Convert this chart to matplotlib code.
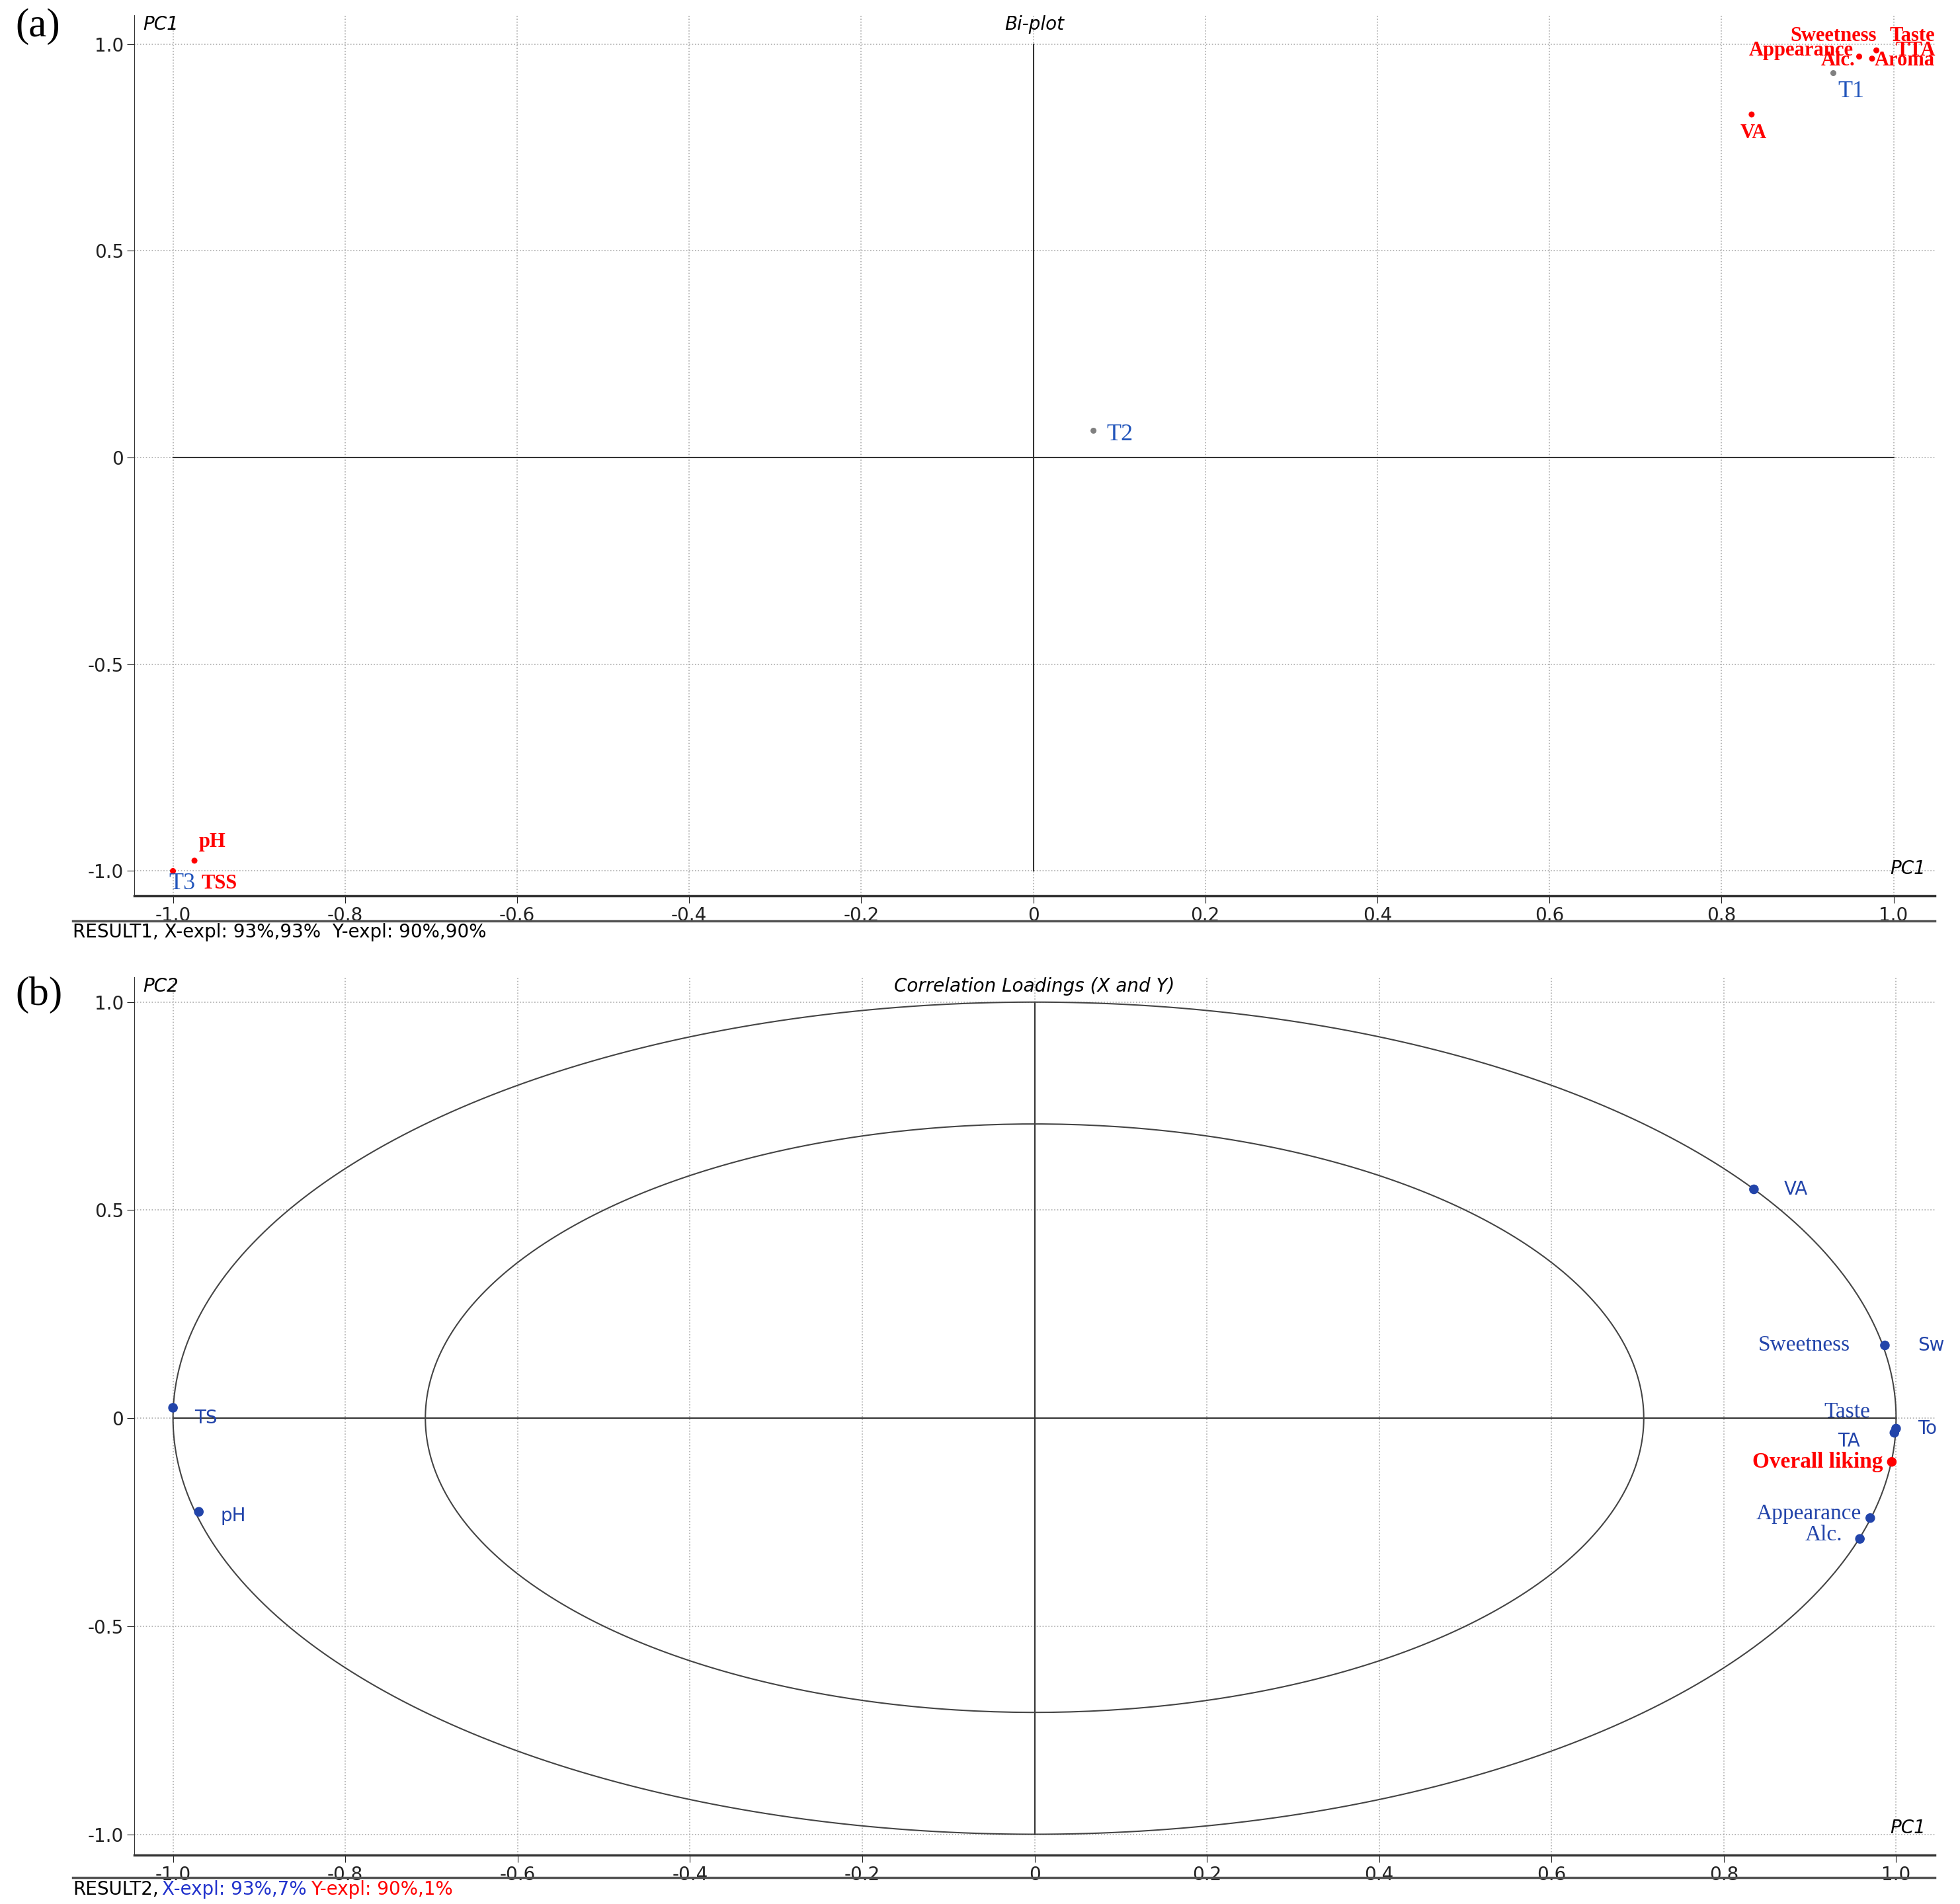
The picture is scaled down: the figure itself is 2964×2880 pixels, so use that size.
import numpy as np
import matplotlib
matplotlib.use("Agg")
import matplotlib.pyplot as plt

# panel (a) bi-plot
a_pts_x = [0.835, 0.96, 0.975, 0.98, -0.975, -1.0, 0.07, 0.93]
a_pts_y = [0.83, 0.97, 0.965, 0.985, -0.975, -1.0, 0.065, 0.93]
a_pts_c = ["red", "red", "red", "red", "red", "red", "grey", "grey"]
a_labels = ["VA", "Sweetness", "Taste", "Appearance", "Alc.", "TTA", "Aroma", "T1", "T2", "T3", "TSS", "pH"]
a_lab_x = [0.822, 0.98, 0.995, 0.953, 0.955, 1.002, 0.978, 0.935, 0.085, -1.005, -0.967, -0.97]
a_lab_y = [0.785, 1.02, 1.02, 0.985, 0.96, 0.985, 0.96, 0.885, 0.055, -1.03, -1.03, -0.93]
a_lab_ha = ["left", "right", "left", "right", "right", "left", "left", "left", "left", "left", "left", "left"]
a_lab_c = ["red"] * 7 + ["#2255bb"] * 3 + ["red"] * 2

# panel (b) correlation loadings
b_names = ["VA", "Sweetness", "Taste", "TA", "Overall liking", "Appearance", "Alc.", "TS", "pH"]
b_x = [0.835, 0.987, 1.0, 0.998, 0.995, 0.97, 0.958, -1.0, -0.97]
b_y = [0.55, 0.175, -0.025, -0.035, -0.105, -0.24, -0.29, 0.025, -0.225]
b_c = ["#2244aa"] * 4 + ["red"] + ["#2244aa"] * 4

ticks_x = np.round(np.arange(-1.0, 1.01, 0.2), 1)
ticks_y = [-1.0, -0.5, 0, 0.5, 1.0]

fig = plt.figure(figsize=(29.64, 28.8), dpi=100)
W, H = 2964, 2880
axa = fig.add_axes([203 / W, 1 - 1355 / H, (2926 - 203) / W, (1355 - 23) / H])
axb = fig.add_axes([203 / W, 1 - 2806 / H, (2926 - 203) / W, (2806 - 1478) / H])

def style(ax, ylab, title):
    for s in ["top", "right"]:
        ax.spines[s].set_visible(False)
    ax.spines["left"].set_color("#333333")
    ax.spines["bottom"].set_color("#333333")
    ax.spines["bottom"].set_linewidth(2.5)
    ax.set_xticks(ticks_x)
    ax.set_xticklabels(["%.1f" % t if t != 0 else "0" for t in ticks_x])
    ax.set_yticks(ticks_y)
    ax.set_yticklabels(["%.1f" % t if t != 0 else "0" for t in ticks_y])
    ax.tick_params(labelsize=20, length=8, colors="#222222")
    ax.grid(True, linestyle=":", color="#aaaaaa", linewidth=1.2)
    ax.plot([0, 0], [-1, 1], color="#333333", lw=1.5)
    ax.text(0.005, 1.0, ylab, transform=ax.transAxes, fontsize=20, style="italic", ha="left", va="top")
    ax.text(0.995, 0.02, "PC1", transform=ax.transAxes, fontsize=20, style="italic", ha="right", va="bottom")
    ax.text(0.5, 1.0, title, transform=ax.transAxes, fontsize=20, style="italic", ha="center", va="top")

axa.set_xlim(-1.045, 1.048)
axa.set_ylim(-1.06, 1.07)
style(axa, "PC1", "Bi-plot")
axa.plot([-1, 1], [0, 0], color="#333333", lw=1.5)
axa.scatter(a_pts_x, a_pts_y, c=a_pts_c, s=30, zorder=3)
for n, x, y, ha, c in zip(a_labels, a_lab_x, a_lab_y, a_lab_ha, a_lab_c):
    axa.text(x, y, n, color=c, ha=ha, va="center", fontsize=22 if c == "red" else 26,
             family="Liberation Serif", fontweight="bold" if c == "red" else "normal")

axb.set_xlim(-1.045, 1.045)
axb.set_ylim(-1.05, 1.06)
style(axb, "PC2", "Correlation Loadings (X and Y)")
axb.plot([-1, 1], [0, 0], color="#333333", lw=1.5)
t = np.linspace(0, 2 * np.pi, 400)
for r in [1.0, np.sqrt(0.5)]:
    axb.plot(r * np.cos(t), r * np.sin(t), color="#444444", lw=1.5)
axb.scatter(b_x, b_y, c=b_c, s=90, zorder=3)
b_off = {"VA": (0.035, 0, "left"), "TS": (0.025, -0.025, "left"), "pH": (0.025, -0.01, "left"),
         "Sweetness": (-0.04, 0, "right"), "Taste": (-0.03, 0.04, "right"), "TA": (-0.04, -0.02, "right"),
         "Overall liking": (-0.01, 0.0, "right"), "Appearance": (-0.01, 0.01, "right"), "Alc.": (-0.02, 0.01, "right")}
for n, x, y, c in zip(b_names, b_x, b_y, b_c):
    dx, dy, ha = b_off[n]
    axb.text(x + dx, y + dy, n, color=c, ha=ha, va="center", fontsize=24 if n not in ("TS", "pH", "VA", "TA") else 20,
             family="Liberation Serif" if n not in ("TS", "pH", "VA", "TA") else "DejaVu Sans",
             fontweight="bold" if c == "red" else "normal")
axb.text(1.025, 0.175, "Sw", color="#2244aa", fontsize=20, va="center")
axb.text(1.025, -0.025, "To", color="#2244aa", fontsize=20, va="center")

fig.text(0.008, 1 - 40 / H, "(a)", fontsize=44, family="Liberation Serif", va="center")
fig.text(0.008, 1 - 1505 / H, "(b)", fontsize=44, family="Liberation Serif", va="center")
fig.text(110 / W, 1 - 1410 / H, "RESULT1, X-expl: 93%,93%  Y-expl: 90%,90%", fontsize=20, va="center")
fig.text(110 / W, 1 - 2858 / H, "RESULT2,", fontsize=20, va="center")
fig.text(245 / W, 1 - 2858 / H, "X-expl: 93%,7%", fontsize=20, va="center", color="#2233cc")
fig.text(470 / W, 1 - 2858 / H, "Y-expl: 90%,1%", fontsize=20, va="center", color="red")
for yy in [1393, 2840]:
    fig.add_artist(plt.Line2D([110 / W, 2926 / W], [1 - yy / H] * 2, color="#555555", lw=2.5))

fig.savefig("out.png", dpi=100)
